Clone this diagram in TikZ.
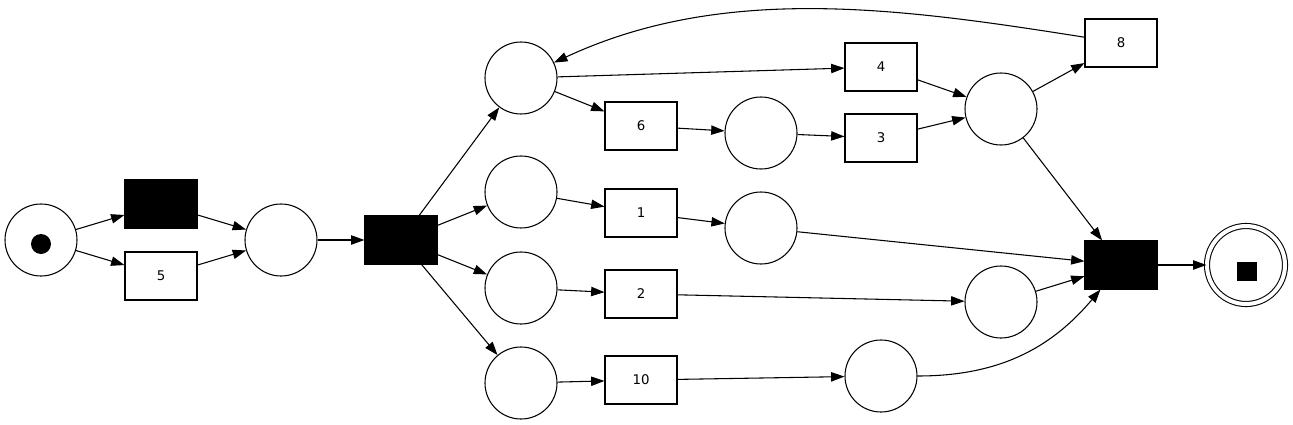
\documentclass[tikz,border=0pt]{standalone}
\usepackage{fontspec}
\setmainfont{DejaVu Sans}
\usetikzlibrary{arrows.meta}
\begin{document}
\begin{tikzpicture}[
    x=0.75pt, y=0.75pt,
    line width=0.8pt,
    place/.style={circle, draw, minimum size=54pt, inner sep=0pt},
    trans/.style={rectangle, draw, minimum width=54pt, minimum height=36pt, inner sep=0pt, font=\fontsize{10}{12}\selectfont},
    silent/.style={trans, fill=black},
    final/.style={place, minimum size=58.5pt, double, double distance=3pt},
    arrow/.style={-{Triangle[length=10pt, width=7pt]}}
]
    \useasboundingbox (0,0) rectangle (1293,-425);

    \node [place] (source) at (41,-240) {};
    \fill (41,-244) circle (7.5pt);
    \node [silent] (tau1) at (161,-204) {};
    \node [trans] (t5) at (161,-276) {5};
    \node [place] (p1) at (281,-240) {};
    \node [silent] (tau2) at (401,-240) {};

    \node [place] (p2) at (521,-78) {};
    \node [place] (p3) at (521,-192) {};
    \node [place] (p4) at (521,-288) {};
    \node [place] (p5) at (521,-383) {};

    \node [trans] (t4) at (881,-67) {4};
    \node [trans] (t6) at (641,-126) {6};
    \node [place] (p6) at (761,-133) {};
    \node [trans] (t3) at (881,-138) {3};
    \node [place] (p7) at (1001,-109) {};
    \node [trans] (t8) at (1121,-43) {8};

    \node [trans] (t1) at (641,-213) {1};
    \node [place] (p8) at (761,-228) {};
    \node [trans] (t2) at (641,-294) {2};
    \node [place] (p9) at (1001,-302) {};
    \node [trans] (t10) at (641,-380) {10};
    \node [place] (p10) at (881,-376) {};

    \node [silent] (tau3) at (1121,-265) {};
    \node [final] (sink) at (1246,-265) {};
    \fill (1237,-262) rectangle (1257,-281);

    \draw [arrow] (source) -- (tau1);
    \draw [arrow] (source) -- (t5);
    \draw [arrow] (tau1) -- (p1);
    \draw [arrow] (t5) -- (p1);
    \draw [arrow] (p1) -- (tau2);
    \draw [arrow] (tau2) -- (p2);
    \draw [arrow] (tau2) -- (p3);
    \draw [arrow] (tau2) -- (p4);
    \draw [arrow] (tau2) -- (p5);

    \draw [arrow] (p2) -- (t4);
    \draw [arrow] (p2) -- (t6);
    \draw [arrow] (t6) -- (p6);
    \draw [arrow] (p6) -- (t3);
    \draw [arrow] (t4) -- (p7);
    \draw [arrow] (t3) -- (p7);
    \draw [arrow] (p7) -- (t8);
    \draw [arrow] (t8) to[out=171, in=25, looseness=0.9] (p2);
    \draw [arrow] (p7) -- (tau3);

    \draw [arrow] (p3) -- (t1);
    \draw [arrow] (t1) -- (p8);
    \draw [arrow] (p8) -- (tau3);
    \draw [arrow] (p4) -- (t2);
    \draw [arrow] (t2) -- (p9);
    \draw [arrow] (p9) -- (tau3);
    \draw [arrow] (p5) -- (t10);
    \draw [arrow] (t10) -- (p10);
    \draw [arrow] (p10) to[out=0, in=-130] (tau3);

    \draw [arrow] (tau3) -- (sink);
\end{tikzpicture}
\end{document}
